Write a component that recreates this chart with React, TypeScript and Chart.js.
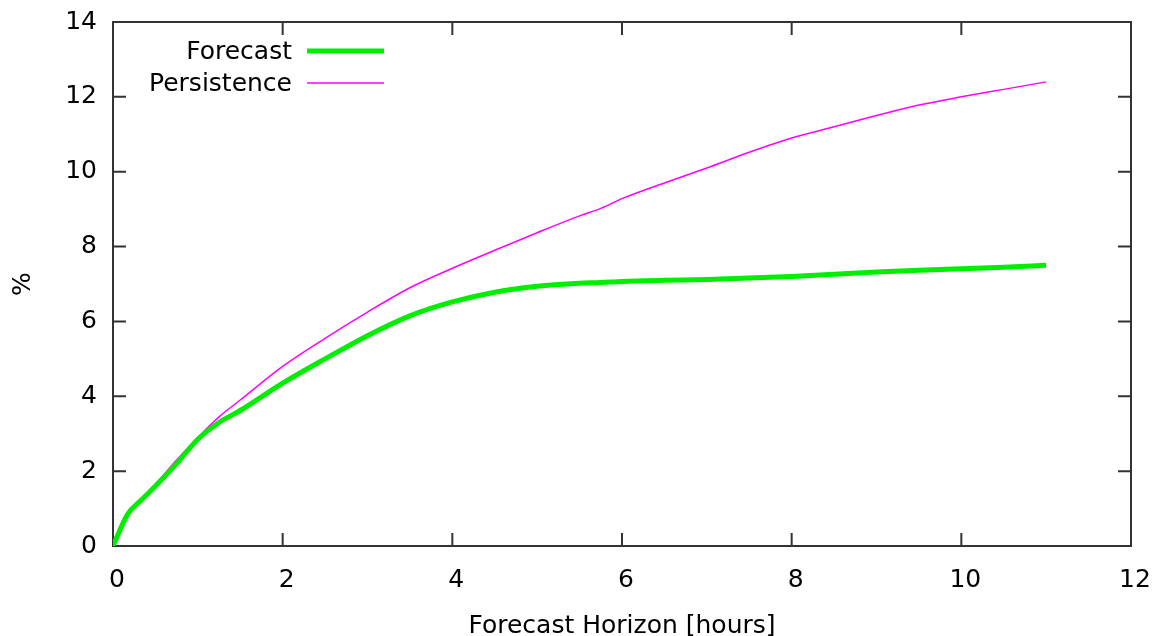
import React, { useEffect, useRef } from 'react';
import { Chart, registerables } from 'chart.js';

Chart.register(...registerables);

const hours = [0, 0.17, 0.33, 0.5, 0.75, 1, 1.25, 1.5, 2, 2.5, 3, 3.5, 4, 4.5, 5, 5.5, 5.75, 6, 6.5, 7, 7.5, 8, 8.5, 9, 9.5, 10, 10.5, 11];
const forecast = [0, 0.84, 1.22, 1.6, 2.2, 2.85, 3.3, 3.62, 4.35, 5.0, 5.62, 6.15, 6.52, 6.78, 6.94, 7.02, 7.04, 7.07, 7.1, 7.12, 7.16, 7.2, 7.26, 7.32, 7.37, 7.41, 7.45, 7.5];
const persistence = [0, 0.86, 1.25, 1.65, 2.3, 2.9, 3.45, 3.9, 4.8, 5.55, 6.25, 6.9, 7.42, 7.9, 8.37, 8.82, 9.02, 9.28, 9.7, 10.1, 10.52, 10.9, 11.2, 11.5, 11.78, 12.0, 12.2, 12.4];

const seriesNames = ['Forecast', 'Persistence'];
const seriesColors = ['#00ee00', '#ff00ff'];
const seriesWidths = [5, 1.5];
const xTicks = [0, 2, 4, 6, 8, 10, 12];
const yTicks = [0, 2, 4, 6, 8, 10, 12, 14];

const FONT = 'DejaVu Sans';
const FS = 25;

const framePlugin = {
  id: 'gnuFrame',
  beforeDatasetsDraw(chart: any) {
    const { ctx, chartArea: a, scales } = chart;
    ctx.save();
    ctx.strokeStyle = '#333';
    ctx.lineWidth = 2;
    ctx.strokeRect(a.left, a.top, a.right - a.left, a.bottom - a.top);
    const tl = 13;
    ctx.beginPath();
    xTicks.forEach((v) => {
      const px = scales.x.getPixelForValue(v);
      ctx.moveTo(px, a.bottom);
      ctx.lineTo(px, a.bottom - tl);
      ctx.moveTo(px, a.top);
      ctx.lineTo(px, a.top + tl);
    });
    yTicks.forEach((v) => {
      const py = scales.y.getPixelForValue(v);
      ctx.moveTo(a.left, py);
      ctx.lineTo(a.left + tl, py);
      ctx.moveTo(a.right, py);
      ctx.lineTo(a.right - tl, py);
    });
    ctx.stroke();
    ctx.restore();
  },
  afterDatasetsDraw(chart: any) {
    const { ctx } = chart;
    ctx.save();
    ctx.font = `${FS}px "${FONT}"`;
    ctx.fillStyle = '#000';
    ctx.textAlign = 'right';
    ctx.textBaseline = 'middle';
    const rows = [51, 83];
    seriesNames.forEach((name, i) => {
      const y = rows[i];
      ctx.fillText(name, 292, y + 1);
      ctx.strokeStyle = seriesColors[i];
      ctx.lineWidth = seriesWidths[i];
      ctx.beginPath();
      ctx.moveTo(307, y);
      ctx.lineTo(384, y);
      ctx.stroke();
    });
    ctx.restore();
  },
};

export default function App() {
  const ref = useRef<HTMLCanvasElement>(null);
  useEffect(() => {
    document.body.style.margin = '0';
    const chart = new Chart(ref.current as HTMLCanvasElement, {
      type: 'line',
      data: {
        datasets: [
          {
            label: seriesNames[0],
            data: hours.map((h, i) => ({ x: h, y: forecast[i] })),
            borderColor: seriesColors[0],
            borderWidth: seriesWidths[0],
            pointRadius: 0,
            cubicInterpolationMode: 'monotone',
            fill: false,
          },
          {
            label: seriesNames[1],
            data: hours.map((h, i) => ({ x: h, y: persistence[i] })),
            borderColor: seriesColors[1],
            borderWidth: seriesWidths[1],
            pointRadius: 0,
            cubicInterpolationMode: 'monotone',
            fill: false,
          },
        ],
      },
      options: {
        animation: false,
        responsive: false,
        maintainAspectRatio: false,
        layout: { padding: { left: 0, right: 27, top: 22, bottom: 0 } },
        plugins: { legend: { display: false }, tooltip: { enabled: false } },
        scales: {
          x: {
            type: 'linear',
            min: 0,
            max: 12,
            afterFit: (s: any) => { s.height = 636 - 546; s.paddingLeft = 0; s.paddingRight = 0; },
            afterBuildTicks: (s: any) => { s.ticks = xTicks.map((v) => ({ value: v })); },
            grid: { display: false, drawTicks: false },
            border: { display: false },
            ticks: {
              color: '#000',
              padding: 19,
              maxRotation: 0,
              font: { family: FONT, size: FS },
              callback: (v: any) => ' ' + v,
            },
            title: {
              display: true,
              text: 'Forecast Horizon [hours]',
              color: '#000',
              font: { family: FONT, size: FS, lineHeight: 0.75 },
              padding: { top: 0, bottom: 0 },
            },
          },
          y: {
            type: 'linear',
            min: 0,
            max: 14,
            afterFit: (s: any) => { s.width = 113; s.paddingTop = 0; s.paddingBottom = 0; },
            afterBuildTicks: (s: any) => { s.ticks = yTicks.map((v) => ({ value: v })); },
            grid: { display: false, drawTicks: false },
            border: { display: false },
            ticks: {
              color: '#000',
              padding: 16,
              font: { family: FONT, size: FS },
            },
            title: {
              display: true,
              text: '%',
              color: '#000',
              font: { family: FONT, size: FS, lineHeight: 1 },
              padding: { top: 11, bottom: 0 },
            },
          },
        },
      },
      plugins: [framePlugin],
    });
    return () => chart.destroy();
  }, []);
  return (
    <div style={{ position: 'absolute', left: 0, top: 0, width: 1158, height: 636, background: '#fff' }}>
      <canvas ref={ref} width={1158} height={636} />
    </div>
  );
}
